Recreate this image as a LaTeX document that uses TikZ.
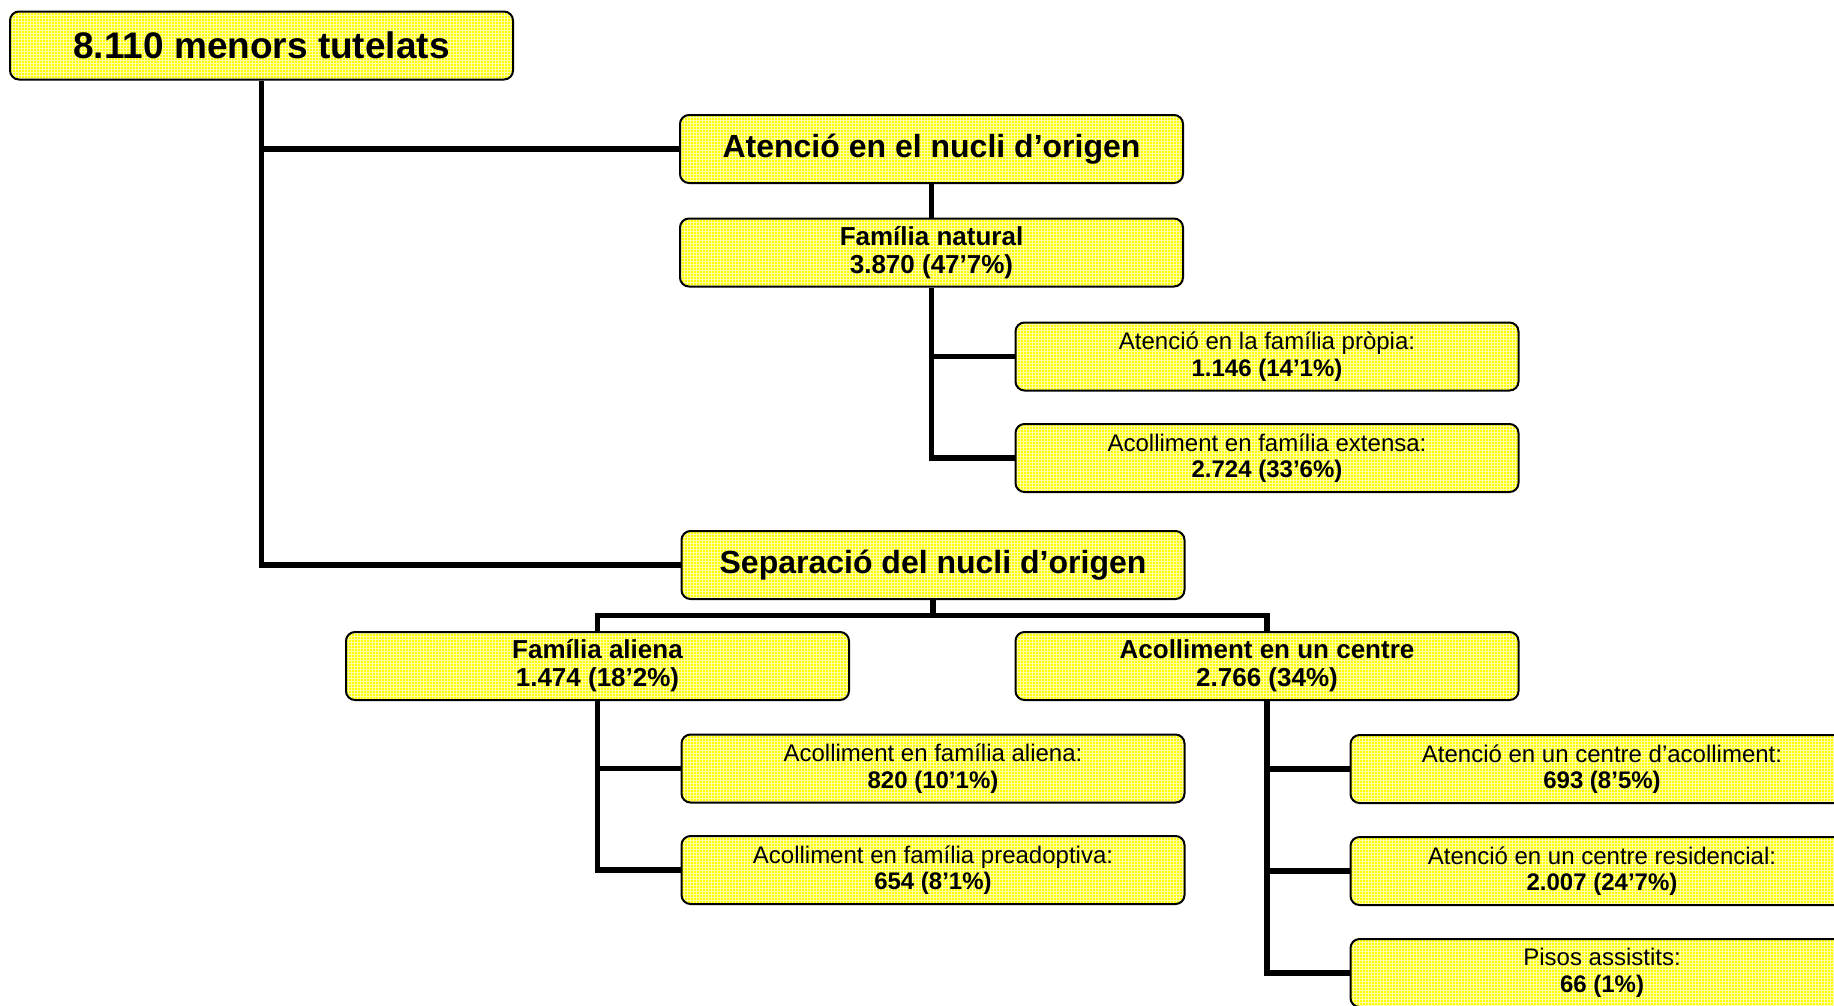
\documentclass[tikz,border=0pt]{standalone}
\usepackage{fontspec}
\setmainfont{Liberation Sans}
\usetikzlibrary{calc,patterns}
\definecolor{boxyellow}{RGB}{255,255,0}
\definecolor{gridyellow}{RGB}{255,255,165}

\begin{document}
\begin{tikzpicture}[x=1pt,y=-1pt,
  box/.style={draw,line width=2pt,rounded corners=9pt,preaction={fill=boxyellow},pattern=grid,pattern color=gridyellow,minimum width=503pt,minimum height=68pt,inner sep=0pt,align=center},
  rootbox/.style={box,font=\fontsize{37}{42}\selectfont\bfseries},
  headbox/.style={box,font=\fontsize{32}{36}\selectfont\bfseries},
  midbox/.style={box,font=\fontsize{26}{28}\selectfont\bfseries},
  leafbox/.style={box,font=\fontsize{24}{26.7}\selectfont},
  link/.style={line width=5.5pt}]
  \clip (0,0) rectangle (1834,1005);
  \node[rootbox] (root) at (261.5,45.5) {8.110 menors tutelats};
  \node[headbox] (atn) at (931.5,149) {Atenció en el nucli d’origen};
  \node[midbox] (nat) at (931.5,252.5) {Família natural\\3.870 (47’7\%)};
  \node[leafbox] (prop) at (1267,356.5) {Atenció en la família pròpia:\\\textbf{1.146 (14’1\%)}};
  \node[leafbox] (ext) at (1267,458) {Acolliment en família extensa:\\\textbf{2.724 (33’6\%)}};
  \node[headbox] (sep) at (933,565) {Separació del nucli d’origen};
  \node[midbox] (ali) at (597.5,666) {Família aliena\\1.474 (18’2\%)};
  \node[midbox] (cen) at (1267,666) {Acolliment en un centre\\2.766 (34\%)};
  \node[leafbox] (acal) at (933,768.5) {Acolliment en família aliena:\\\textbf{820 (10’1\%)}};
  \node[leafbox] (pre) at (933,870) {Acolliment en família preadoptiva:\\\textbf{654 (8’1\%)}};
  \node[leafbox] (acol) at (1602,769) {Atenció en un centre d’acolliment:\\\textbf{693 (8’5\%)}};
  \node[leafbox] (res) at (1602,871) {Atenció en un centre residencial:\\\textbf{2.007 (24’7\%)}};
  \node[leafbox] (pis) at (1602,973) {Pisos assistits:\\\textbf{66 (1\%)}};
  \coordinate (bus) at ($(sep.south)!0.5!(cen.north)$);
  \draw[link] (root.south) |- (sep.west);
  \draw[link] (root.south |- atn.west) -- (atn.west);
  \draw[link] (atn.south) -- (nat.north);
  \draw[link] (nat.south) |- (ext.west);
  \draw[link] (nat.south |- prop.west) -- (prop.west);
  \draw[link] (sep.south) -- (sep.south |- bus);
  \draw[link] (ali.north) |- (bus) -| (cen.north);
  \draw[link] (ali.south) |- (pre.west);
  \draw[link] (ali.south |- acal.west) -- (acal.west);
  \draw[link] (cen.south) |- (pis.west);
  \draw[link] (cen.south |- acol.west) -- (acol.west);
  \draw[link] (cen.south |- res.west) -- (res.west);
\end{tikzpicture}
\end{document}
